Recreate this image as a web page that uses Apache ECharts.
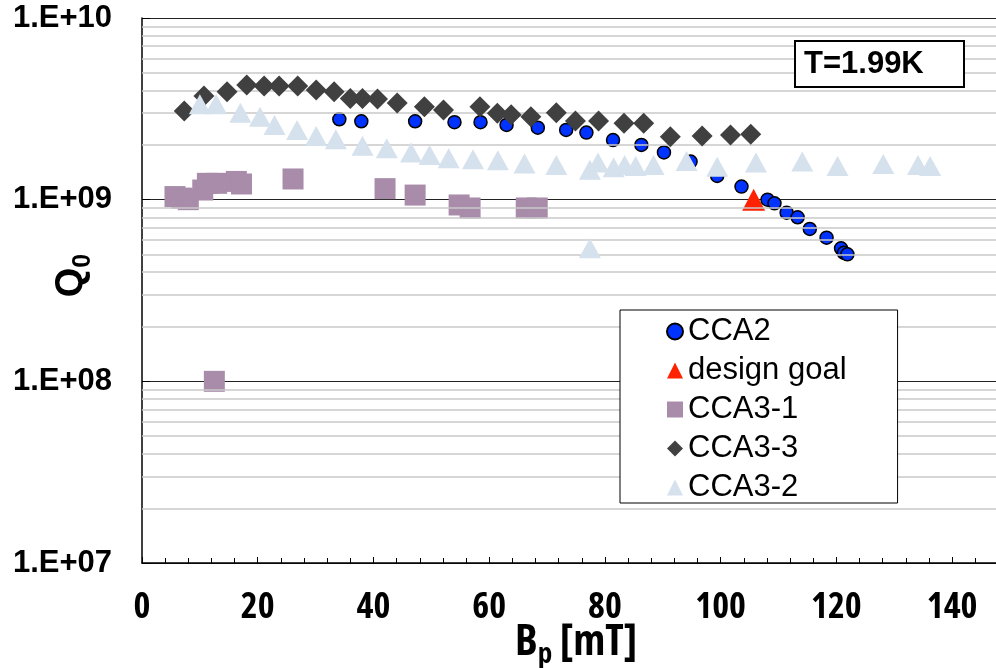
<!DOCTYPE html>
<html>
<head>
<meta charset="utf-8">
<script src="https://cdn.jsdelivr.net/npm/echarts@6/dist/echarts.min.js"></script>
<style>
html, body { margin: 0; padding: 0; background: #fff; }
#chart { width: 996px; height: 668px; }
</style>
</head>
<body>
<div id="chart"></div>
<script>
var dom = document.getElementById("chart");
var myChart = echarts.init(dom);

// Bp [mT] , Q0
var cca2 = [
	[34.1, 2.77e9], [37.9, 2.70e9], [47.2, 2.70e9], [54.0, 2.67e9], [58.5, 2.67e9],
	[63.0, 2.58e9], [68.4, 2.49e9], [73.3, 2.42e9], [76.8, 2.34e9], [81.4, 2.13e9],
	[86.3, 2.00e9], [90.2, 1.82e9], [94.8, 1.62e9], [99.4, 1.35e9], [103.6, 1.18e9],
	[108.1, 1.00e9], [109.3, 0.955e9], [111.4, 0.848e9], [113.3, 0.80e9], [115.4, 0.69e9],
	[118.3, 0.618e9], [120.8, 0.54e9], [121.3, 0.51e9], [121.9, 0.50e9]
];
var designGoal = [[105.7, 1.0e9]];
var cca3_1 = [
	[5.7, 1.04e9], [6.9, 1.02e9], [8.0, 1.00e9], [10.5, 1.13e9], [11.3, 1.23e9],
	[12.9, 1.23e9], [16.3, 1.26e9], [17.2, 1.22e9], [26.1, 1.30e9], [42.0, 1.15e9],
	[47.2, 1.06e9], [54.8, 0.935e9], [56.7, 0.90e9], [66.4, 0.90e9], [68.3, 0.90e9],
	[12.5, 1.0e8]
];
var cca3_3 = [
	[7.3, 3.08e9], [10.7, 3.72e9], [14.7, 3.93e9], [18.1, 4.28e9], [21.1, 4.23e9],
	[23.7, 4.23e9], [26.9, 4.23e9], [30.1, 4.02e9], [33.2, 3.93e9], [36.0, 3.61e9],
	[38.1, 3.61e9], [40.7, 3.58e9], [44.1, 3.40e9], [48.8, 3.25e9], [52.1, 3.12e9],
	[58.4, 3.25e9], [61.4, 2.99e9], [63.8, 2.93e9], [67.2, 2.86e9], [71.6, 3.01e9],
	[74.9, 2.71e9], [78.9, 2.71e9], [83.3, 2.63e9], [86.7, 2.63e9], [91.3, 2.22e9],
	[96.8, 2.24e9], [101.7, 2.27e9], [105.2, 2.29e9]
];
var cca3_2 = [
	[10.0, 3.35e9], [12.8, 3.35e9], [17.0, 3.01e9], [20.4, 2.86e9], [22.9, 2.58e9],
	[26.8, 2.42e9], [30.1, 2.24e9], [33.5, 2.15e9], [38.1, 1.98e9], [42.3, 1.92e9],
	[46.5, 1.82e9], [49.7, 1.76e9], [53.0, 1.69e9], [57.2, 1.67e9], [61.5, 1.65e9],
	[66.1, 1.58e9], [71.6, 1.55e9], [77.4, 1.46e9], [78.8, 1.60e9], [81.5, 1.51e9],
	[83.4, 1.55e9], [85.3, 1.53e9], [88.4, 1.55e9], [94.1, 1.63e9], [99.4, 1.52e9],
	[106.1, 1.60e9], [114.1, 1.62e9], [120.2, 1.53e9], [128.1, 1.57e9], [134.1, 1.55e9],
	[136.2, 1.53e9], [77.4, 0.54e9]
];

var legendNames = ['CCA2', 'design goal', 'CCA3-1', 'CCA3-3', 'CCA3-2'];

// 对数轴的次网格线 2..9 x 10^n
var minorGrid = [];
for (var d = 7; d <= 9; d++) {
	for (var m = 2; m <= 9; m++) {
		minorGrid.push({ yAxis: m * Math.pow(10, d) });
	}
}

var font = 'Liberation Sans, Arial, sans-serif';
// x轴用窄体 (Open Sans 可变字体 condensed)
var narrow = '"Open Sans", Liberation Sans, sans-serif';

option = {
	animation: false,
	title: {
		text: 'T=1.99K',
		left: 795,
		top: 41,
		z: 10,
		padding: [8, 40, 7, 9],
		borderColor: '#000',
		borderWidth: 2,
		backgroundColor: '#fff',
		textStyle: { fontFamily: font, fontWeight: 'bold', fontSize: 31, color: '#000' }
	},
	legend: {
		data: legendNames,
		orient: 'vertical',
		left: 620,
		top: 310,
		z: 10,
		padding: [6, 51, 0, 46],
		itemGap: 8,
		itemWidth: 16,
		itemHeight: 16,
		backgroundColor: '#fff',
		borderColor: '#000',
		borderWidth: 1,
		textStyle: { fontFamily: font, fontSize: 31, color: '#000' }
	},
	grid: {
		left: 142,
		top: 18,
		right: -14,
		bottom: 105,
		outerBoundsMode: 'none'
	},
	xAxis: {
		type: 'value',
		min: 0,
		max: 150,
		interval: 20,
		name: '{b|B}{s|p}{b| [mT]}',
		nameLocation: 'middle',
		nameGap: 53,
		nameMoveOverlap: false,
		nameTextStyle: {
			rich: {
				b: { fontFamily: narrow, fontStyle: 'condensed', fontWeight: 'bold', fontSize: 43, color: '#000' },
				s: { fontFamily: narrow, fontStyle: 'condensed', fontWeight: 'bold', fontSize: 29, color: '#000', padding: [24, 0, 0, 0] }
			}
		},
		axisLine: { lineStyle: { color: '#000', width: 1.5 } },
		axisTick: { inside: true, length: 6, lineStyle: { color: '#000' } },
		minorTick: { show: true, splitNumber: 5, length: 5, lineStyle: { color: '#000' } },
		axisLabel: {
			showMaxLabel: false,
			margin: 27,
			fontFamily: narrow,
			fontStyle: 'condensed',
			fontWeight: 'bold',
			fontSize: 36,
			color: '#000'
		},
		splitLine: { show: false }
	},
	yAxis: {
		type: 'log',
		logBase: 10,
		min: 1e7,
		max: 1e10,
		name: '{b|Q}{s|0}',
		nameLocation: 'middle',
		nameRotate: 90,
		nameGap: 46,
		nameMoveOverlap: false,
		nameTextStyle: {
			padding: [0, 0, 0, 30],
			rich: {
				b: { fontFamily: font, fontWeight: 'bold', fontSize: 38, color: '#000' },
				s: { fontFamily: font, fontWeight: 'bold', fontSize: 25, color: '#000', padding: [24, 0, 0, 0] }
			}
		},
		axisLine: { onZero: false, lineStyle: { color: '#000', width: 1.5 } },
		axisTick: { inside: true, length: 8, lineStyle: { color: '#000' } },
		axisLabel: {
			margin: 30,
			fontFamily: font,
			fontWeight: 'bold',
			fontSize: 31,
			color: '#000',
			formatter: function (v) {
				var e = Math.round(Math.log10(v));
				return '1.E+' + (e < 10 ? '0' + e : e);
			}
		},
		splitLine: { show: true, lineStyle: { color: '#222', width: 1.2 } }
	},
	series: [{
		name: 'grid',
		type: 'scatter',
		data: [],
		z: 1,
		silent: true,
		markLine: {
			silent: true,
			symbol: 'none',
			label: { show: false },
			animation: false,
			lineStyle: { color: '#c8c8c8', width: 1.5, type: 'solid' },
			data: minorGrid
		}
	}, {
		name: 'CCA3-1',
		type: 'scatter',
		data: cca3_1,
		symbol: 'rect',
		symbolSize: 21,
		z: 2,
		itemStyle: { color: '#a88caa', opacity: 1 }
	}, {
		name: 'design goal',
		type: 'scatter',
		data: designGoal,
		symbol: 'triangle',
		symbolSize: [23, 22],
		z: 3,
		itemStyle: { color: '#ff2200', opacity: 1 }
	}, {
		name: 'CCA2',
		type: 'scatter',
		data: cca2,
		symbol: 'circle',
		symbolSize: 13,
		z: 4,
		itemStyle: { color: '#0033ff', borderColor: '#000', borderWidth: 1.5, opacity: 1 }
	}, {
		name: 'CCA3-3',
		type: 'scatter',
		data: cca3_3,
		symbol: 'diamond',
		symbolSize: 21,
		z: 5,
		itemStyle: { color: '#404040', opacity: 1 }
	}, {
		name: 'CCA3-2',
		type: 'scatter',
		data: cca3_2,
		symbol: 'triangle',
		symbolSize: [22, 20],
		z: 6,
		itemStyle: { color: '#d5e1ec', opacity: 1 }
	}]
};

if (option && typeof option === "object") {
	myChart.setOption(option, true);
}
</script>
</body>
</html>
